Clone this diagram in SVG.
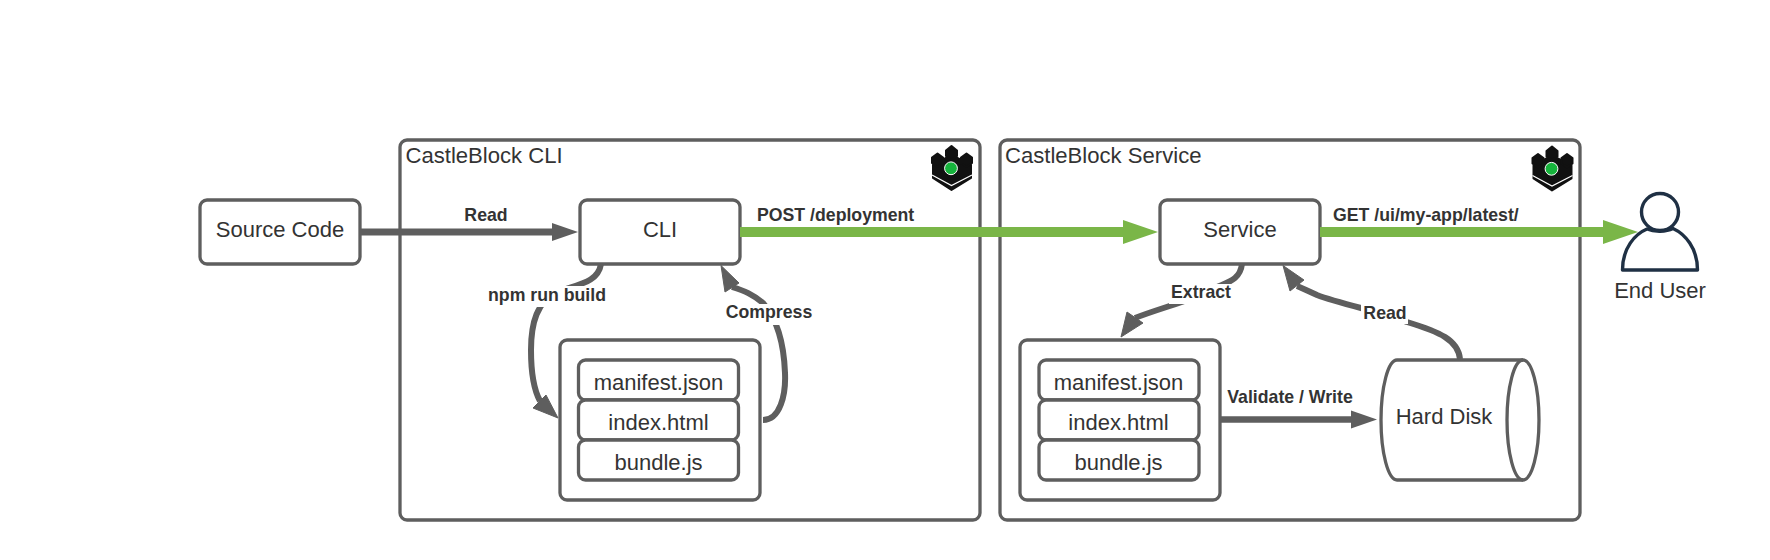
<svg xmlns="http://www.w3.org/2000/svg" width="1770" height="560" viewBox="0 0 1770 560">
<style>
text{font-family:"Liberation Sans",Arial,sans-serif;fill:#333333}
.n{font-size:22px;text-anchor:middle}
.t{font-size:22.1px}
.l{font-size:17.7px;font-weight:bold}
.m{text-anchor:middle}
.b{fill:#ffffff;stroke:#5e5e5e;stroke-width:3.3}
.c{fill:none;stroke:#5e5e5e;stroke-width:6}
.h{fill:#5e5e5e;stroke:#5e5e5e;stroke-width:1;stroke-linejoin:round}
.g{fill:none;stroke:#7ab648;stroke-width:10}
.bg{fill:#ffffff;stroke:none}
</style>
<defs>
<marker id="ag" markerUnits="userSpaceOnUse" markerWidth="26" markerHeight="20" refX="0" refY="10" orient="auto"><path d="M0,1 L26,10 L0,19 Z" fill="#5e5e5e"/></marker>
<marker id="ar" markerUnits="userSpaceOnUse" markerWidth="36" markerHeight="26" refX="0" refY="13" orient="auto"><path d="M0,1 L35,13 L0,25 Z" fill="#7ab648"/></marker>
<g id="logo">
<path d="M933,165 L951.500,155 L971,165 V178 L951.500,190 L933,178 Z" fill="#111111" stroke="#111111" stroke-width="2" stroke-linejoin="round"/>
<path d="M946,150.500 L951.500,146 L957,150.500 V156 L951.500,160 L946,156 Z" fill="#111111" stroke="#111111" stroke-width="2" stroke-linejoin="round"/>
<path d="M932,157.500 L937.500,153.500 L943,157.500 V163 L937.500,167 L932,163 Z" fill="#111111" stroke="#111111" stroke-width="2" stroke-linejoin="round"/>
<path d="M961,157.500 L966.500,153.500 L972,157.500 V163 L966.500,167 L961,163 Z" fill="#111111" stroke="#111111" stroke-width="2" stroke-linejoin="round"/>
<path d="M932,175 L951.500,185.500 L972,175" fill="none" stroke="#ffffff" stroke-width="1.200"/>
<circle cx="951" cy="168.300" r="6.400" fill="#16b43c" stroke="#ffffff" stroke-width="1"/>
</g>
</defs>
<g id="frame-cli"><rect class="b" x="400" y="140" width="580" height="380" rx="7"/><text class="t" x="405.500" y="163">CastleBlock CLI</text><use href="#logo"/></g>
<g id="frame-service"><rect class="b" x="1000" y="140" width="580" height="380" rx="7"/><text class="t" x="1005" y="163">CastleBlock Service</text><use href="#logo" x="600.500" y="0.500"/></g>
<g id="source-code"><rect class="b" x="200" y="200" width="160" height="64" rx="7"/><text class="n" x="280" y="237">Source Code</text></g>
<g id="cli"><rect class="b" x="580" y="200" width="160" height="64" rx="7"/><text class="n" x="660" y="237">CLI</text></g>
<g id="service"><rect class="b" x="1160" y="200" width="160" height="64" rx="7"/><text class="n" x="1240" y="237">Service</text></g>
<g id="bundle-cli"><rect class="b" x="560" y="340" width="200" height="160" rx="7"/>
<rect class="b" x="578.500" y="360" width="160" height="40" rx="7"/><text class="n" x="658.500" y="390">manifest.json</text>
<rect class="b" x="578.500" y="400" width="160" height="40" rx="7"/><text class="n" x="658.500" y="430">index.html</text>
<rect class="b" x="578.500" y="440" width="160" height="40" rx="7"/><text class="n" x="658.500" y="470">bundle.js</text></g>
<g id="bundle-service"><rect class="b" x="1020" y="340" width="200" height="160" rx="7"/>
<rect class="b" x="1039" y="360" width="160" height="40" rx="7"/><text class="n" x="1118.500" y="390">manifest.json</text>
<rect class="b" x="1039" y="400" width="160" height="40" rx="7"/><text class="n" x="1118.500" y="430">index.html</text>
<rect class="b" x="1039" y="440" width="160" height="40" rx="7"/><text class="n" x="1118.500" y="470">bundle.js</text></g>
<g id="hard-disk"><path class="b" d="M1397,360 H1523 A16,60 0 0 1 1523,480 H1397 A16,60 0 0 1 1397,360 Z"/><path class="b" style="fill:none" d="M1523,360 A16,60 0 0 0 1523,480"/><text class="n" x="1444" y="424">Hard Disk</text></g>
<g id="connectors">
<path class="c" marker-end="url(#ag)" d="M360,232 H552" style="stroke-width:7"/>
<path class="g" marker-end="url(#ar)" d="M740,232 H1123"/>
<path class="g" marker-end="url(#ar)" d="M1320,232 H1603"/>
<path class="c" marker-end="url(#ag)" d="M1220,419.500 H1351" style="stroke-width:6.500"/>
<path class="c" d="M601,264 C598,282 580,284 560,291 C536,300 531,325 531,350 C531,374 534,390 540,401"/>
<polygon class="h" points="558,418 533,408 546,395"/>
<path class="c" d="M763,420 C780,420 786,395 785,373 C784,345 778,320 763,303 C752,294 745,291 732,287"/>
<polygon class="h" points="721,265.500 725,292 739,283"/>
<path class="c" d="M1242,264 C1240,280 1228,282 1215,288 C1200,298 1160,308 1135,318"/>
<polygon class="h" points="1121,337 1127,312 1143,323"/>
<path class="c" d="M1460,359 C1458,340 1440,332 1407,322 C1390,314 1340,304 1317,295 C1308,291 1302,288 1297,286"/>
<polygon class="h" points="1283,265.500 1290,291 1304,280"/>
<rect class="bg" x="486" y="286" width="122" height="21"/>
<rect class="bg" x="724" y="304" width="92" height="21"/>
<rect class="bg" x="1169" y="284" width="64" height="20"/>
<rect class="bg" x="1361" y="304" width="47" height="20"/>
<text class="l m" x="486" y="221">Read</text>
<text class="l" x="757" y="221">POST /deployment</text>
<text class="l" x="1333" y="221">GET /ui/my-app/latest/</text>
<text class="l m" x="547" y="301">npm run build</text>
<text class="l m" x="769" y="318">Compress</text>
<text class="l m" x="1201" y="298">Extract</text>
<text class="l m" x="1385" y="319">Read</text>
<text class="l m" x="1290" y="403">Validate / Write</text>
</g>
<g id="end-user"><path d="M1622.500,270 C1622.500,248 1635,234 1647,229 C1654,232 1666,232 1673,228.500 C1685,234 1697.500,248 1697.500,270 Z" fill="#ffffff" stroke="#1f3044" stroke-width="3.400" stroke-linejoin="round"/><ellipse cx="1660" cy="212" rx="18.500" ry="18.500" fill="#ffffff" stroke="#1f3044" stroke-width="3.400"/><text class="n" x="1660" y="298">End User</text></g>
</svg>
